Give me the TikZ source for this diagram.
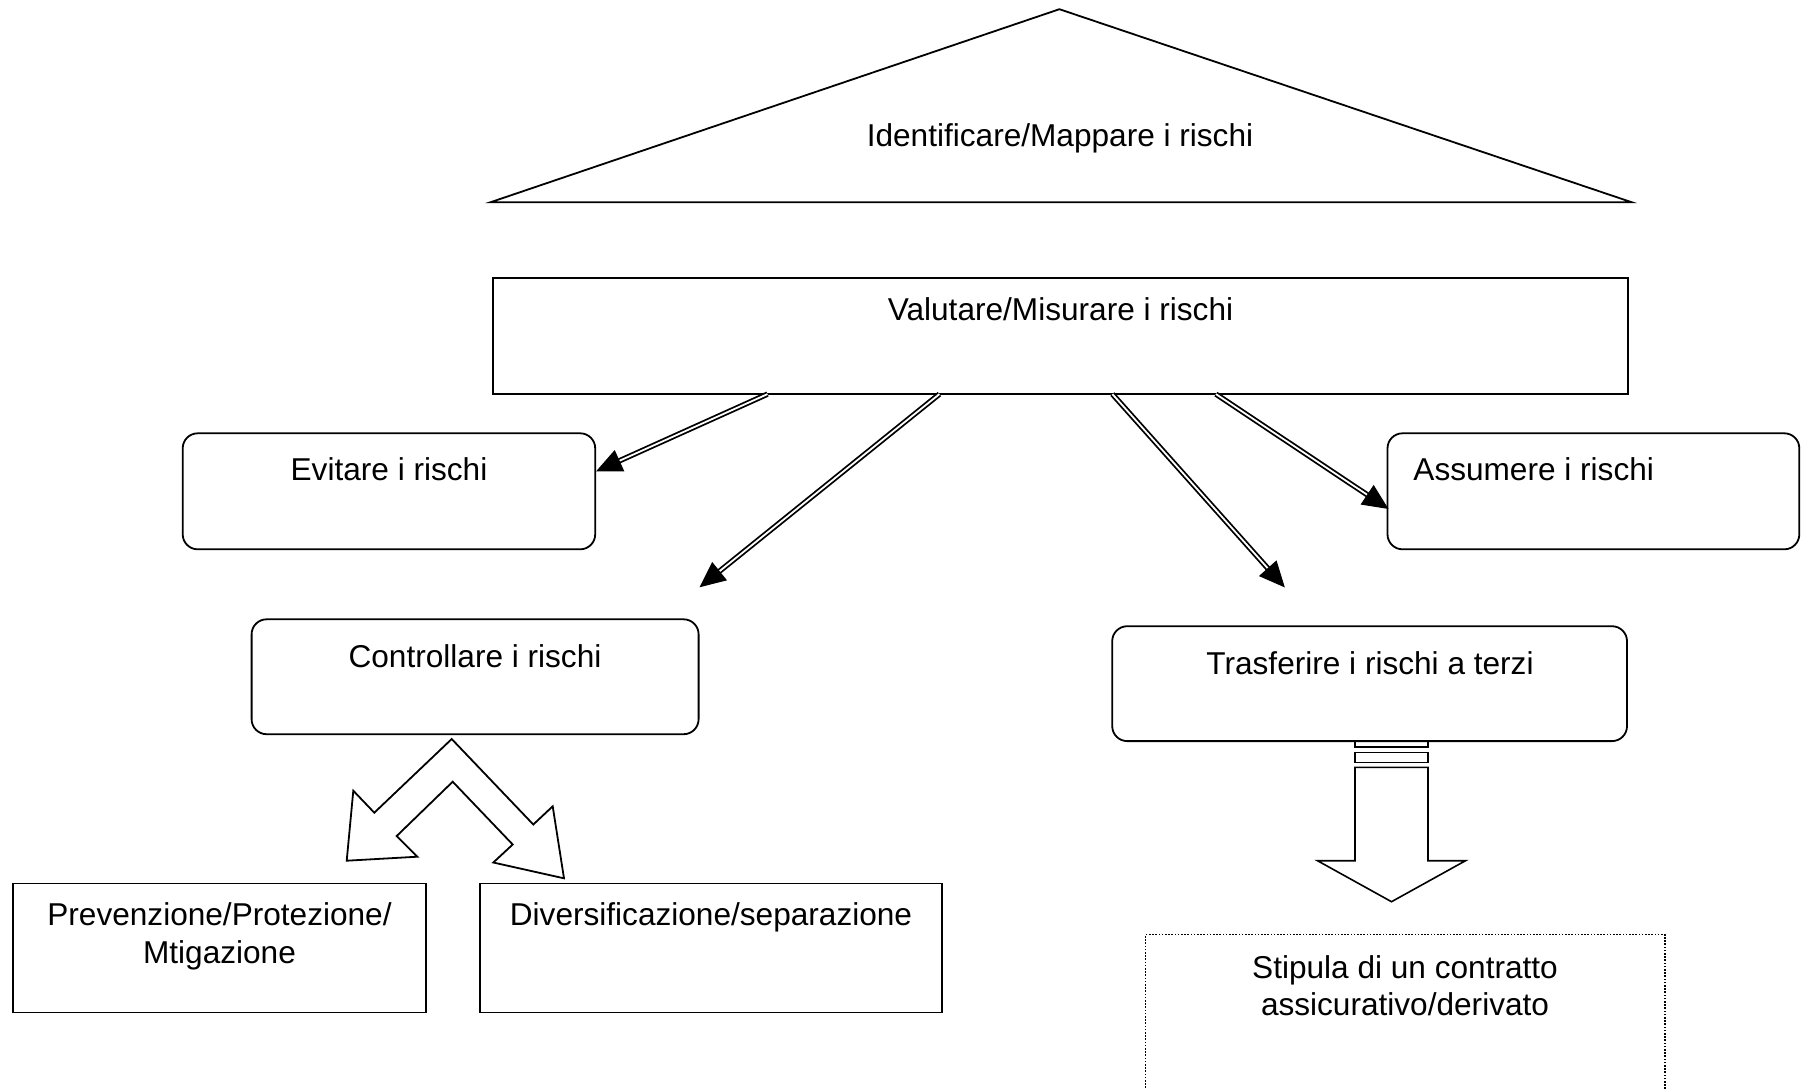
\documentclass[tikz,border=0pt]{standalone}
\usepackage{fontspec}
\setmainfont{Liberation Sans}
\usetikzlibrary{arrows.meta,calc,fit}
\newcommand\myDblArrow[2]{%
  \draw[dbl] (#1) -- ($(#2)!11pt!(#1)$);
  \path ($(#2)!12pt!(#1)$) coordinate (hb);
  \fill[draw, line width=0.5pt] (#2) -- ($(hb)!5.5pt!90:(#2)$) -- ($(hb)!5.5pt!-90:(#2)$) -- cycle;}
\begin{document}
\begin{tikzpicture}[x=0.5pt,y=-0.5pt,
  every node/.style={font=\fontsize{15.8}{19}\selectfont},
  box/.style={draw, line width=0.9pt, inner sep=0pt, outer sep=0pt},
  rbox/.style={box, rounded corners=7.5pt},
  dotbox/.style={draw, line width=0.8pt, dash pattern=on 0.8pt off 0.8pt, inner sep=0pt, outer sep=0pt},
  txt/.style={inner sep=0pt, anchor=base},
  dbl/.style={draw, line width=0.9pt, double, double distance=0.9pt},
  outl/.style={draw, line width=0.9pt, line join=miter}]
\useasboundingbox (0,0) rectangle (1802,1088);
\clip (0,0) rectangle (1802,1088);

% top triangle
\coordinate (tA) at (1059.4,9.2);
\coordinate (tL) at (490.6,202.2);
\coordinate (tR) at (1631.6,202.2);
\draw[outl] (tA) -- (tR) -- (tL) -- cycle;
\node[txt] (tt) at (1060,146) {Identificare/Mappare i rischi};

% boxes
\node[box, fit={(492.9,278.1) (1628.1,394.1)}] (val) {};
\node[txt] (valt) at (1060.5,320) {Valutare/Misurare i rischi};

\node[rbox, fit={(182.7,433.3) (595.2,549.3)}] (evi) {};
\node[txt] (evit) at (389,480.5) {Evitare i rischi};

\node[rbox, fit={(1387.5,433.3) (1799.3,549.3)}] (ass) {};
\node[txt, anchor=base west] (asst) at (1413,480) {Assumere i rischi};

\node[rbox, fit={(251.6,619.3) (698.6,734.2)}] (ctl) {};
\node[txt] (ctlt) at (475,667) {Controllare i rischi};

\node[rbox, fit={(1112.2,626.2) (1627,741.1)}] (tra) {};
\node[txt] (trat) at (1370,674) {Trasferire i rischi a terzi};

\node[box, fit={(12.6,883.5) (426.3,1012.5)}] (pre) {};
\node[txt] (pret1) at (219.5,925) {Prevenzione/Protezione/};
\node[txt] (pret2) at (219.5,963.5) {Mtigazione};

\node[box, fit={(480.3,883.5) (942.2,1012.5)}] (div) {};
\node[txt] (divt) at (711,925) {Diversificazione/separazione};

\node[dotbox, fit={(1145.6,934.5) (1664.9,1120)}] (sti) {};
\node[txt] (stit1) at (1405,978.5) {Stipula di un contratto};
\node[txt] (stit2) at (1405,1015.5) {assicurativo/derivato};

% double-line arrows
\coordinate (a1s) at ($(val.south west)+(274.6,0)$);
\coordinate (a1e) at ($(evi.north east)+(2,37.5)$);
\coordinate (a2s) at ($(val.south west)+(446.5,0)$);
\coordinate (a2e) at (700.5,586.5);
\coordinate (a3s) at ($(val.south west)+(619.5,0)$);
\coordinate (a3e) at (1284,586.5);
\coordinate (a4s) at ($(val.south west)+(723,0)$);
\coordinate (a4e) at ($(ass.north west)+(0,75)$);
\myDblArrow{a1s}{a1e}
\myDblArrow{a2s}{a2e}
\myDblArrow{a3s}{a3e}
\myDblArrow{a4s}{a4e}

% bent double arrow below Controllare
\draw[outl] (451.7,739) -- (374.3,812.7) -- (353.3,790.7) -- (346.7,860.7)
  -- (417.3,856.7) -- (396.7,836) -- (452.7,781.7) -- (512.7,844.5)
  -- (493.3,862.5) -- (564,878.3) -- (552.7,806.3) -- (533.3,824.5) -- cycle;

% striped block arrow below Trasferire
\draw[line width=0.8pt] (1355,741.1) rectangle (1428,746.7);
\draw[line width=0.8pt] (1355,752.3) rectangle (1428,762.3);
\draw[outl, line width=0.8pt] (1355,767.3) -- (1355,860.7) -- (1317.5,860.7) -- (1391.5,901.7)
  -- (1465.5,860.7) -- (1428,860.7) -- (1428,767.3) -- cycle;
\end{tikzpicture}
\end{document}
